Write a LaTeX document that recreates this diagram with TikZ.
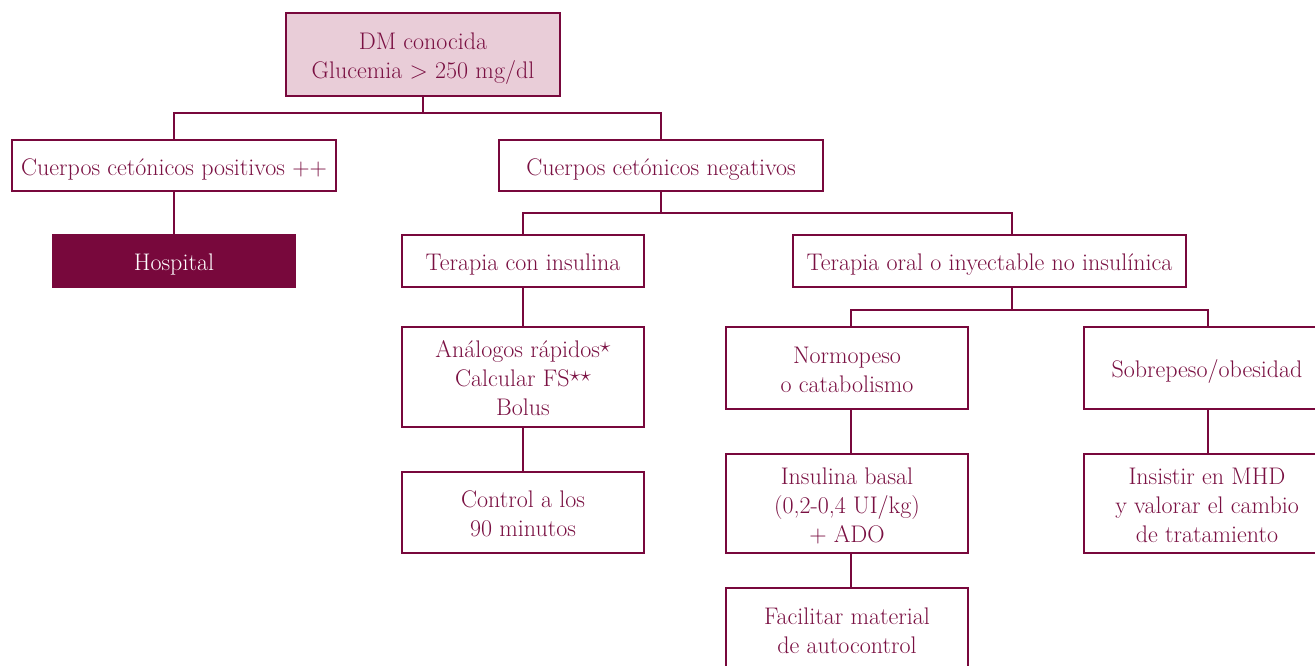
\documentclass[tikz,border=0pt]{standalone}
\usepackage{fontspec}
\usepackage{graphicx}
\definecolor{dmred}{RGB}{120,8,60}
\definecolor{dmtext}{RGB}{122,16,66}
\definecolor{dmpink}{RGB}{233,205,216}
\newcommand{\boxtxt}[1]{\raisebox{-4pt}[\height][\depth]{\begin{tabular}{@{}c@{}}#1\end{tabular}}}
\newcommand{\stmark}{\raisebox{0.5ex}{\scalebox{1.25}{$\scriptstyle\star$}}}
\begin{document}
\begin{tikzpicture}[x=1pt,y=-1pt,
  box/.style={draw=dmred, line width=1.4pt, text=dmtext, inner sep=0pt,
    font=\fontsize{24}{29}\selectfont},
  conn/.style={draw=dmred, line width=1.4pt}]
\useasboundingbox (0,0) rectangle (1315,665);
\clip (0,0) rectangle (1315,665);
\fill[white] (0,0) rectangle (1315,665);
% nodes
\node[box, fill=dmpink, minimum width=274pt, minimum height=83pt] (dm) at (423,54.5) {\boxtxt{DM conocida\\Glucemia > 250 mg/dl}};
\node[box, minimum width=324pt, minimum height=51pt] (pos) at (174,165.5) {\boxtxt{Cuerpos cetónicos positivos ++}};
\node[box, minimum width=324pt, minimum height=51pt] (neg) at (661,165.5) {\boxtxt{Cuerpos cetónicos negativos}};
\node[box, fill=dmred, text=white, minimum width=243pt, minimum height=52pt] (hosp) at (174,261) {\boxtxt{Hospital}};
\node[box, minimum width=242pt, minimum height=52pt] (ins) at (523,261) {\boxtxt{Terapia con insulina}};
\node[box, minimum width=393pt, minimum height=52pt] (oral) at (989.5,261) {\boxtxt{Terapia oral o inyectable no insulínica}};
\node[box, minimum width=242pt, minimum height=100pt] (ana) at (523,377) {\boxtxt{Análogos rápidos\stmark\\Calcular FS\stmark\stmark\\Bolus}};
\node[box, minimum width=242pt, minimum height=81pt] (ctrl) at (523,512.5) {\boxtxt{Control a los\\90 minutos}};
\node[box, minimum width=242pt, minimum height=82pt] (normo) at (847,368) {\boxtxt{Normopeso\\o catabolismo}};
\node[box, minimum width=246pt, minimum height=82pt] (sobre) at (1207,368) {\boxtxt{Sobrepeso/obesidad}};
\node[box, minimum width=242pt, minimum height=99pt] (basal) at (847,503.5) {\boxtxt{Insulina basal\\(0,2-0,4 UI/kg)\\+ ADO}};
\node[box, minimum width=246pt, minimum height=99pt] (insis) at (1207,503.5) {\boxtxt{Insistir en MHD\\y valorar el cambio\\de tratamiento}};
\node[box, minimum width=242pt, minimum height=82pt] (facil) at (847,629) {\boxtxt{Facilitar material\\de autocontrol}};
% junctions
\coordinate (j1) at (423,113);
\coordinate (j2) at (661,213);
\coordinate (j3) at (1012,310);
\coordinate (cn) at (851,310);
\coordinate (cs) at (1208,310);
% connectors
\draw[conn] (dm.south) -- (j1);
\draw[conn] (pos.north) |- (j1) -| (neg.north);
\draw[conn] (pos.south) -- (hosp.north);
\draw[conn] (neg.south) -- (j2);
\draw[conn] (ins.north) |- (j2) -| (oral.north -| j3);
\draw[conn] (oral.south -| j3) -- (j3);
\draw[conn] (normo.north -| cn) -- (cn) -- (cs) -- (sobre.north -| cs);
\draw[conn] (ins.south) -- (ana.north);
\draw[conn] (ana.south) -- (ctrl.north);
\draw[conn] (normo.south -| cn) -- (basal.north -| cn);
\draw[conn] (basal.south -| cn) -- (facil.north -| cn);
\draw[conn] (sobre.south -| cs) -- (insis.north -| cs);
\end{tikzpicture}
\end{document}
